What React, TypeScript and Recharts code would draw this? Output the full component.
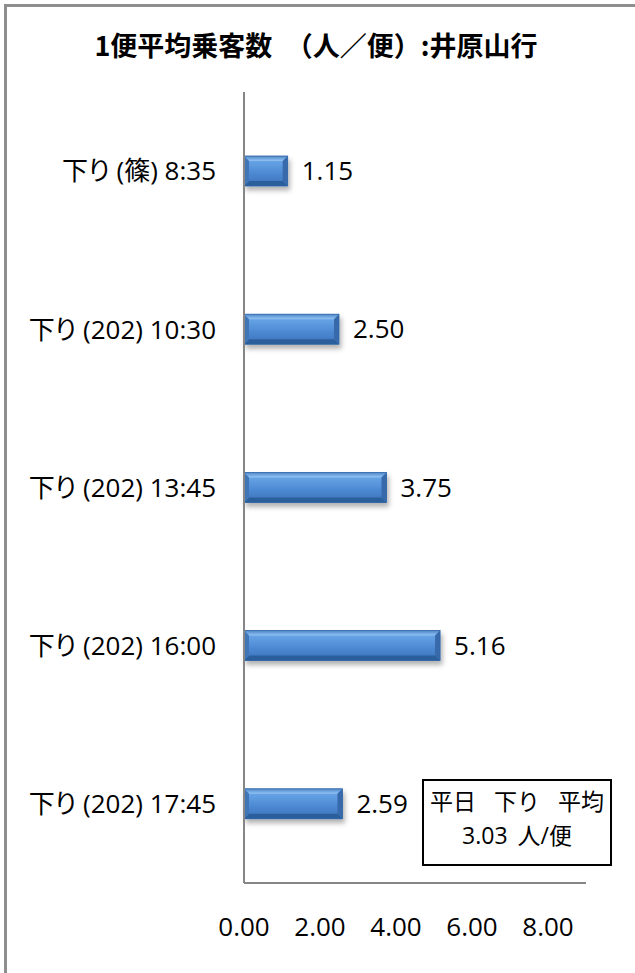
import React from 'react';
import { BarChart, Bar, XAxis, YAxis, LabelList } from 'recharts';

const categories = ['下り (篠) 8:35', '下り (202) 10:30', '下り (202) 13:45', '下り (202) 16:00', '下り (202) 17:45'];
const values = [1.15, 2.5, 3.75, 5.16, 2.59];
const xTicks = [0, 2, 4, 6, 8];
const title = '1便平均乗客数　（人／便）:井原山行';
const noteLine1 = '平日 下り 平均';
const noteLine2 = '3.03 人/便';

const data = categories.map((name, i) => ({ name, value: values[i] }));

const FONT = "'Open Sans', 'Noto Sans CJK JP', sans-serif";
const CJK = "'Noto Sans CJK JP', 'Noto Sans', sans-serif";

const BevelBar = (props: any) => {
  const { x, y, width, height } = props;
  if (!width || width <= 0) return null;
  const b = 5;
  const r = x + width;
  const bt = y + height;
  return (
    <g filter="url(#barShadow)">
      <rect x={x} y={y} width={width} height={height} fill="url(#barGrad)" />
      <polygon points={`${x},${y} ${r},${y} ${r - b},${y + b} ${x + b},${y + b}`} fill="url(#topBevel)" />
      <polygon points={`${x},${bt} ${r},${bt} ${r - b},${bt - b} ${x + b},${bt - b}`} fill="#2c5e9c" />
      <polygon points={`${r},${y} ${r},${bt} ${r - b},${bt - b} ${r - b},${y + b}`} fill="#3769aa" />
      <polygon points={`${x},${y} ${x},${bt} ${x + b},${bt - b} ${x + b},${y + b}`} fill="#3f76b8" />
      <rect x={x} y={y} width={width} height={height} fill="none" stroke="#2f64a6" strokeWidth={0.8} />
    </g>
  );
};

export default function App() {
  return (
    <div style={{ position: 'fixed', left: 0, top: 0, width: 635, height: 973, overflow: 'hidden', background: '#fff' }}>
      <svg width={0} height={0} style={{ position: 'absolute' }}>
        <defs>
          <linearGradient id="barGrad" x1="0" y1="0" x2="0" y2="1">
            <stop offset="0%" stopColor="#72ade9" />
            <stop offset="25%" stopColor="#619ee2" />
            <stop offset="60%" stopColor="#4c88d2" />
            <stop offset="100%" stopColor="#3a72b8" />
          </linearGradient>
          <linearGradient id="topBevel" x1="0" y1="0" x2="0" y2="1">
            <stop offset="0%" stopColor="#4f86c8" />
            <stop offset="100%" stopColor="#92c4f4" />
          </linearGradient>
          <filter id="barShadow" x="-10%" y="-30%" width="130%" height="180%">
            <feDropShadow dx="2" dy="4" stdDeviation="2.5" floodColor="#000" floodOpacity="0.3" />
          </filter>
        </defs>
      </svg>
      <div
        style={{
          position: 'absolute',
          left: 4,
          top: 4,
          width: 700,
          height: 1100,
          borderLeft: '3px solid #8e8e8e',
          borderTop: '3px solid #8e8e8e',
        }}
      />
      <div
        style={{
          position: 'absolute',
          left: 0,
          top: 25,
          width: 632,
          textAlign: 'center',
          fontFamily: CJK,
          fontWeight: 700,
          fontSize: 27,
          lineHeight: '40px',
          color: '#000',
          whiteSpace: 'nowrap',
        }}
      >
        {title}
      </div>
      <div style={{ position: 'absolute', left: 0, top: 0 }}>
        <BarChart
          width={635}
          height={973}
          data={data}
          layout="vertical"
          margin={{ top: 92, right: 49, bottom: 30, left: 0 }}
        >
          <XAxis
            type="number"
            domain={[0, 9]}
            ticks={xTicks}
            tickFormatter={(v: number) => v.toFixed(2)}
            axisLine={{ stroke: '#868686', strokeWidth: 2 }}
            tickLine={false}
            tickSize={0}
            tickMargin={35}
            height={60}
            tick={{ fill: '#000', fontSize: 26, fontFamily: FONT }}
            interval={0}
          />
          <YAxis
            type="category"
            dataKey="name"
            width={244}
            axisLine={{ stroke: '#868686', strokeWidth: 2 }}
            tickLine={false}
            tickSize={0}
            tickMargin={28}
            tick={{ fill: '#000', fontSize: 26, fontFamily: FONT, style: { fontFeatureSettings: "'palt'" } } as any}
            interval={0}
          />
          <Bar dataKey="value" barSize={30} shape={<BevelBar />} isAnimationActive={false}>
            <LabelList
              dataKey="value"
              position="right"
              offset={14}
              formatter={(v: any) => Number(v).toFixed(2)}
              style={{ fill: '#000', fontSize: 26, fontFamily: FONT }}
            />
          </Bar>
        </BarChart>
      </div>
      <div
        style={{
          position: 'absolute',
          left: 422,
          top: 779,
          width: 186,
          height: 83,
          border: '2px solid #000',
          background: '#fff',
          fontFamily: FONT,
          fontSize: 23,
          color: '#000',
          textAlign: 'center',
          boxSizing: 'content-box',
        }}
      >
        <div style={{ position: 'absolute', left: 0, right: 0, top: 5, lineHeight: '30px', whiteSpace: 'nowrap', wordSpacing: 12 }}>{noteLine1}</div>
        <div style={{ position: 'absolute', left: 0, right: 0, top: 39, lineHeight: '30px', whiteSpace: 'nowrap', wordSpacing: 4 }}>{noteLine2}</div>
      </div>
    </div>
  );
}
